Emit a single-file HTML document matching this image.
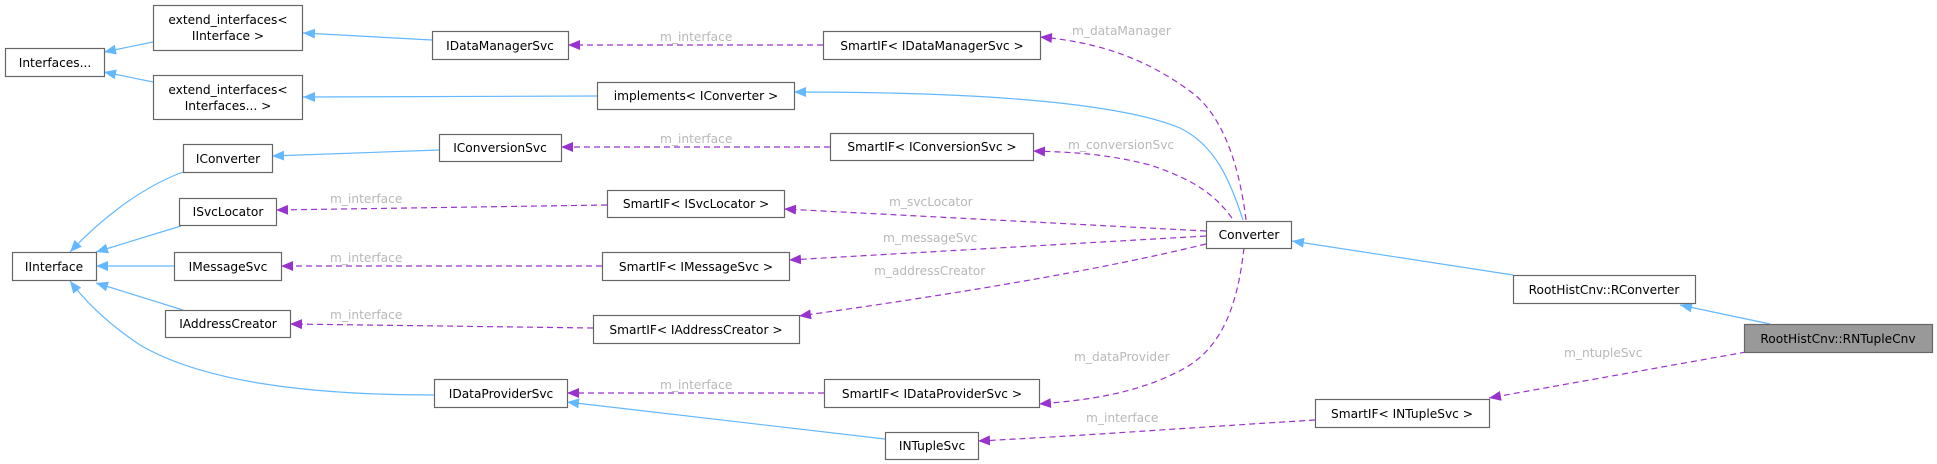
<!DOCTYPE html>
<html><head><meta charset="utf-8"><style>
html,body{margin:0;padding:0;background:#fff;}
svg{display:block;}
text{font-family:"DejaVu Sans","Liberation Sans",sans-serif;}
.n{fill:#fff;stroke:#666;stroke-width:1.2;}
.t{font-size:12.2px;fill:#000;text-anchor:middle;}
.l{font-size:12.2px;fill:#b8b8b8;}
.b{fill:none;stroke:#63b8ff;stroke-width:1.2;}
.p{fill:none;stroke:#9a32cd;stroke-width:1.2;stroke-dasharray:6,4;}
</style></head><body>
<svg width="1937" height="464" viewBox="0 0 1937 464" xmlns="http://www.w3.org/2000/svg">
<defs>
<marker id="ab" markerUnits="userSpaceOnUse" markerWidth="14" markerHeight="12" refX="12" refY="5" orient="auto"><path d="M0,0 L12,5 L0,10 z" fill="#63b8ff"/></marker>
<marker id="ap" markerUnits="userSpaceOnUse" markerWidth="14" markerHeight="12" refX="12" refY="5" orient="auto"><path d="M0,0 L12,5 L0,10 z" fill="#9a32cd"/></marker>
</defs>

<!-- blue edges -->
<path class="b" marker-end="url(#ab)" d="M153,42 L104,52"/>
<path class="b" marker-end="url(#ab)" d="M153,82 L104,72"/>
<path class="b" marker-end="url(#ab)" d="M432,40 L303,33"/>
<path class="b" marker-end="url(#ab)" d="M597,96 L303,97"/>
<path class="b" marker-end="url(#ab)" d="M439,150 L272,156"/>
<path class="b" marker-end="url(#ab)" d="M183,172 C140,188 100,220 70,252"/>
<path class="b" marker-end="url(#ab)" d="M181,226 L96,252"/>
<path class="b" marker-end="url(#ab)" d="M174,266 L96,266"/>
<path class="b" marker-end="url(#ab)" d="M183,310 L96,283"/>
<path class="b" marker-end="url(#ab)" d="M434,395 C300,395 200,380 140,345 C110,325 88,305 70,281"/>
<path class="b" marker-end="url(#ab)" d="M885,439 L567,402"/>
<path class="b" marker-end="url(#ab)" d="M1243,220 C1230,180 1215,145 1180,128 C1100,95 900,92 794,92"/>
<path class="b" marker-end="url(#ab)" d="M1513,275 L1292,241"/>
<path class="b" marker-end="url(#ab)" d="M1770,324 L1680,305"/>

<!-- purple edges -->
<path class="p" marker-end="url(#ap)" d="M823,45 L568,45"/>
<text class="l" x="660" y="41">m_interface</text>
<path class="p" marker-end="url(#ap)" d="M830,147 L561,147"/>
<text class="l" x="660" y="143">m_interface</text>
<path class="p" marker-end="url(#ap)" d="M607,205 L276,210"/>
<text class="l" x="330" y="203">m_interface</text>
<path class="p" marker-end="url(#ap)" d="M602,266 L281,266"/>
<text class="l" x="330" y="262">m_interface</text>
<path class="p" marker-end="url(#ap)" d="M593,328 L290,324"/>
<text class="l" x="330" y="319">m_interface</text>
<path class="p" marker-end="url(#ap)" d="M824,393 L567,393"/>
<text class="l" x="660" y="389">m_interface</text>

<path class="p" marker-end="url(#ap)" d="M1246,220 C1240,170 1225,120 1195,95 C1150,60 1100,42 1040,37"/>
<text class="l" x="1072" y="35">m_dataManager</text>
<path class="p" marker-end="url(#ap)" d="M1232,218 C1215,195 1195,180 1150,165 C1100,152 1060,152 1033,151"/>
<text class="l" x="1068" y="149">m_conversionSvc</text>
<path class="p" marker-end="url(#ap)" d="M1206,231 L784,209"/>
<text class="l" x="889" y="206">m_svcLocator</text>
<path class="p" marker-end="url(#ap)" d="M1206,236 L789,260"/>
<text class="l" x="883" y="242">m_messageSvc</text>
<path class="p" marker-end="url(#ap)" d="M1206,244 C1100,270 950,295 799,316"/>
<text class="l" x="874" y="275">m_addressCreator</text>
<path class="p" marker-end="url(#ap)" d="M1244,248 C1238,300 1225,345 1185,368 C1140,393 1090,400 1039,404"/>
<text class="l" x="1074" y="361">m_dataProvider</text>
<path class="p" marker-end="url(#ap)" d="M1315,420 C1200,427 1080,436 978,441"/>
<text class="l" x="1086" y="422">m_interface</text>
<path class="p" marker-end="url(#ap)" d="M1746,352 L1489,398"/>
<text class="l" x="1564" y="357">m_ntupleSvc</text>

<!-- nodes -->
<rect class="n" x="5.5" y="48.5" width="99" height="28"/><text class="t" x="55" y="67">Interfaces...</text>
<rect class="n" x="153.5" y="5.5" width="149" height="45"/><text class="t" x="228" y="24">extend_interfaces&lt;</text><text class="t" x="228" y="40">IInterface &gt;</text>
<rect class="n" x="153.5" y="75.5" width="149" height="44"/><text class="t" x="228" y="94">extend_interfaces&lt;</text><text class="t" x="228" y="110">Interfaces... &gt;</text>
<rect class="n" x="432.5" y="31.5" width="136" height="28"/><text class="t" x="500" y="50">IDataManagerSvc</text>
<rect class="n" x="597.5" y="82.5" width="197" height="27"/><text class="t" x="696" y="100">implements&lt; IConverter &gt;</text>
<rect class="n" x="439.5" y="134.5" width="122" height="27"/><text class="t" x="500" y="152">IConversionSvc</text>
<rect class="n" x="183.5" y="144.5" width="89" height="28"/><text class="t" x="228" y="163">IConverter</text>
<rect class="n" x="179.5" y="198.5" width="97" height="27"/><text class="t" x="228" y="216">ISvcLocator</text>
<rect class="n" x="12.5" y="252.5" width="84" height="28"/><text class="t" x="54" y="271">IInterface</text>
<rect class="n" x="174.5" y="252.5" width="107" height="28"/><text class="t" x="228" y="271">IMessageSvc</text>
<rect class="n" x="165.5" y="310.5" width="125" height="27"/><text class="t" x="228" y="328">IAddressCreator</text>
<rect class="n" x="434.5" y="379.5" width="133" height="28"/><text class="t" x="501" y="398">IDataProviderSvc</text>
<rect class="n" x="823.5" y="31.5" width="217" height="28"/><text class="t" x="932" y="50">SmartIF&lt; IDataManagerSvc &gt;</text>
<rect class="n" x="830.5" y="133.5" width="203" height="27"/><text class="t" x="932" y="151">SmartIF&lt; IConversionSvc &gt;</text>
<rect class="n" x="607.5" y="190.5" width="177" height="27"/><text class="t" x="696" y="208">SmartIF&lt; ISvcLocator &gt;</text>
<rect class="n" x="602.5" y="252.5" width="187" height="28"/><text class="t" x="696" y="271">SmartIF&lt; IMessageSvc &gt;</text>
<rect class="n" x="593.5" y="315.5" width="206" height="28"/><text class="t" x="696" y="334">SmartIF&lt; IAddressCreator &gt;</text>
<rect class="n" x="824.5" y="379.5" width="215" height="28"/><text class="t" x="932" y="398">SmartIF&lt; IDataProviderSvc &gt;</text>
<rect class="n" x="885.5" y="432.5" width="93" height="27"/><text class="t" x="932" y="450">INTupleSvc</text>
<rect class="n" x="1206.5" y="221.5" width="85" height="27"/><text class="t" x="1249" y="239">Converter</text>
<rect class="n" x="1513.5" y="275.5" width="182" height="28"/><text class="t" x="1604" y="294">RootHistCnv::RConverter</text>
<rect x="1744.5" y="324.5" width="188" height="28" fill="#999" stroke="#666" stroke-width="1.2"/><text class="t" x="1838" y="343">RootHistCnv::RNTupleCnv</text>
<rect class="n" x="1315.5" y="399.5" width="174" height="28"/><text class="t" x="1402" y="418">SmartIF&lt; INTupleSvc &gt;</text>
</svg>
</body></html>
